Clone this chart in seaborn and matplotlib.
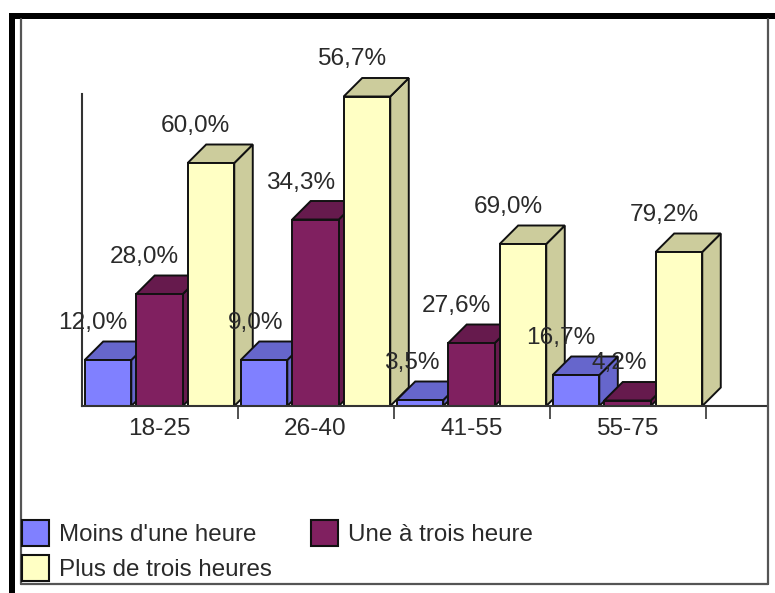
import matplotlib
matplotlib.use("Agg")
import matplotlib.pyplot as plt
import pandas as pd
import seaborn as sns

from matplotlib.lines import Line2D
from matplotlib.patches import Patch, Polygon, Rectangle


# ----------------------------------
# Data
# ----------------------------------

ages = ["18-25", "26-40", "41-55", "55-75"]
durees = ["Moins d'une heure", "Une à trois heure", "Plus de trois heures"]

# bar heights are not proportional to the printed percentages in the source
hauteur_moins = [46, 46, 6, 31]
hauteur_une = [112, 186.5, 63, 5.5]
hauteur_plus = [243, 309.5, 162, 154]

labels_moins = ["12,0%", "9,0%", "3,5%", "16,7%"]
labels_une = ["28,0%", "34,3%", "27,6%", "4,2%"]
labels_plus = ["60,0%", "56,7%", "69,0%", "79,2%"]

couleurs_face = ["#8080FF", "#802060", "#FFFFC4"]
couleurs_cote = ["#6666CC", "#661A4D", "#CCCC9C"]

df = pd.DataFrame({
    "age": ages * 3,
    "duree": [d for d in durees for _ in ages],
    "hauteur": hauteur_moins + hauteur_une + hauteur_plus,
})


# ----------------------------------
# Figure
# ----------------------------------

W, H = 775, 593
sns.set_style("white")
plt.rcParams["font.family"] = ["Liberation Sans", "DejaVu Sans"]

fig = plt.figure(figsize=(W / 100, H / 100), dpi=100)

x0, x1 = 81.5, 767
y_base, y_top = 406, 94
ax = fig.add_axes([x0 / W, 1 - y_base / H, (x1 - x0) / W, (y_base - y_top) / H])
ax.patch.set_alpha(0)

sns.barplot(
    data=df,
    x="age",
    y="hauteur",
    hue="duree",
    order=ages,
    hue_order=durees,
    palette=couleurs_face,
    saturation=1,
    width=0.99,
    gap=0.095,
    edgecolor="#111111",
    linewidth=1.4,
    legend=False,
    ax=ax,
)

# one category is 156 px wide, one y unit is one px
cat_px = 156
ax.set_xlim(-0.5, -0.5 + (x1 - x0) / cat_px)
ax.set_ylim(0, y_base - y_top)


# ----------------------------------
# 3D faces and labels
# ----------------------------------

dx = 18.5 / cat_px
dy = 18.5
text_color = "#2a2a2a"
font_size = 17.6

labels = [labels_moins, labels_une, labels_plus]
barres = []
for i, container in enumerate(ax.containers):
    for j, bar in enumerate(container):
        barres.append((bar, i, labels[i][j]))

# painted left to right, each bar hides what stands behind it
barres.sort(key=lambda b: b[0].get_x())

for k, (bar, i, label) in enumerate(barres):
    left = bar.get_x()
    right = left + bar.get_width()
    h = bar.get_height()
    z = 3 + k

    cote = Polygon(
        [(right, 0), (right + dx, dy), (right + dx, h + dy), (right, h)],
        facecolor=couleurs_cote[i], edgecolor="#111111", linewidth=1.4,
        zorder=z, clip_on=False,
    )
    dessus = Polygon(
        [(left, h), (left + dx, h + dy), (right + dx, h + dy), (right, h)],
        facecolor=couleurs_cote[i], edgecolor="#111111", linewidth=1.4,
        zorder=z, clip_on=False,
    )
    ax.add_patch(cote)
    ax.add_patch(dessus)
    bar.set_zorder(z + 0.5)
    bar.set_clip_on(False)

    ax.text(
        left + bar.get_width() / 2 + 19.5 / cat_px,
        h + 37,
        label,
        ha="right",
        va="center",
        fontsize=font_size,
        color=text_color,
        zorder=100,
    )


# ----------------------------------
# Axes
# ----------------------------------

sns.despine(ax=ax)
for side in ["left", "bottom"]:
    ax.spines[side].set_color("#333333")
    ax.spines[side].set_linewidth(1.5)
    ax.spines[side].set_zorder(50)

ax.set_xlabel("")
ax.set_ylabel("")
ax.set_yticks([])
ax.set_xticks(range(len(ages)))
ax.set_xticklabels(ages, fontsize=font_size, color=text_color)
ax.tick_params(axis="x", which="major", length=0, pad=8.5)
ax.set_xticks([0.5, 1.5, 2.5, 3.5], minor=True)
ax.tick_params(axis="x", which="minor", length=9.2, width=1.2, color="#333333", bottom=True)


# ----------------------------------
# Legend
# ----------------------------------

handles = [
    Patch(facecolor=c, edgecolor="#111111", linewidth=1.5, label=d)
    for c, d in zip(couleurs_face, durees)
]
fig.legend(
    handles=[handles[0], handles[2], handles[1]],
    ncol=2,
    loc="lower left",
    bbox_to_anchor=(22 / W, 1 - 581 / H),
    borderaxespad=0,
    borderpad=0,
    frameon=False,
    fontsize=17.35,
    labelcolor=text_color,
    handlelength=1.12,
    handleheight=1.28,
    handletextpad=0.42,
    labelspacing=0.38,
    columnspacing=1.62,
)


# ----------------------------------
# Frame of the screenshot
# ----------------------------------

fig.add_artist(Rectangle((9 / W, 0), 6 / W, 1 - 13 / H, transform=fig.transFigure,
                         facecolor="black", edgecolor="none"))
fig.add_artist(Rectangle((9 / W, 1 - 19 / H), 1 - 9 / W, 6 / H, transform=fig.transFigure,
                         facecolor="black", edgecolor="none"))

gris = "#555555"
for xs, ys in [
    ([20.5, 20.5], [19, 584]),
    ([767.5, 767.5], [19, 584]),
    ([20.5, 767.5], [584, 584]),
]:
    fig.add_artist(Line2D([x / W for x in xs], [1 - y / H for y in ys],
                          color=gris, linewidth=1.6))

fig.savefig("out.png", dpi=100)
